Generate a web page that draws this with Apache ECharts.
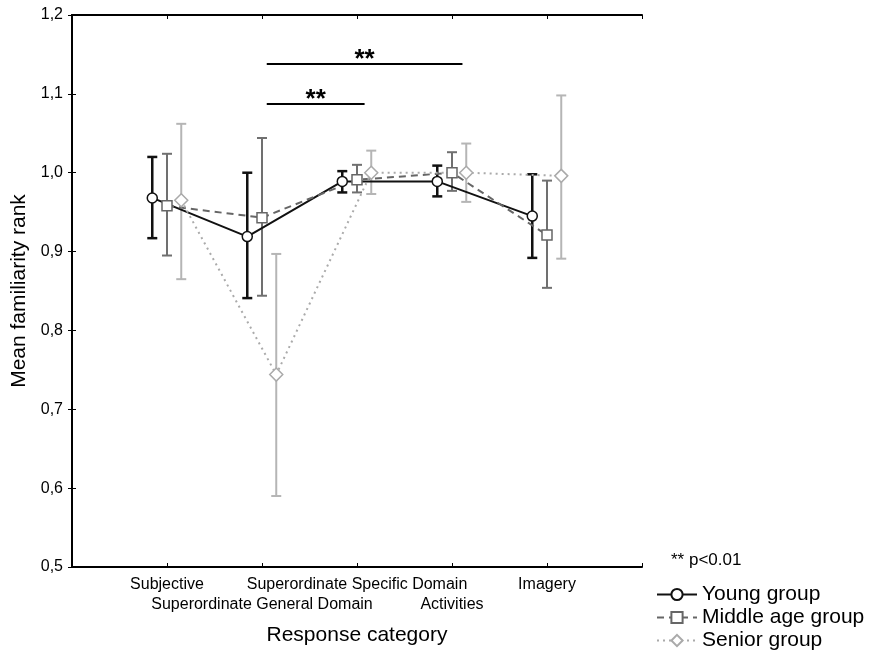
<!DOCTYPE html>
<html>
<head>
<meta charset="utf-8">
<script src="https://cdn.jsdelivr.net/npm/echarts@6/dist/echarts.min.js"></script>
<style>
  html, body { margin: 0; padding: 0; background: #fff; }
  #chart { width: 873px; height: 654px; }
</style>
</head>
<body>
<div id="chart"></div>
<script>
const categories = [
    "Subjective",
    "Superordinate General Domain",
    "Superordinate Specific Domain",
    "Activities",
    "Imagery"
];

// means, lower and upper ends of the error bars, per group
const youngMean = [0.968, 0.919, 0.989, 0.989, 0.945];
const youngLow = [0.917, 0.841, 0.975, 0.970, 0.892];
const youngHigh = [1.020, 1.000, 1.002, 1.009, 0.998];

const middleMean = [0.958, 0.943, 0.991, 1.000, 0.921];
const middleLow = [0.895, 0.844, 0.975, 0.977, 0.854];
const middleHigh = [1.024, 1.044, 1.010, 1.026, 0.990];

const seniorMean = [0.965, 0.744, 1.000, 1.000, 0.996];
const seniorLow = [0.865, 0.590, 0.973, 0.963, 0.891];
const seniorHigh = [1.062, 0.897, 1.028, 1.037, 1.098];

// significance bars: [from, to, level]
const sigBars = [
    [2.05, 4.11, 1.138],
    [2.05, 3.08, 1.087]
];

const yTicks = [0.5, 0.6, 0.7, 0.8, 0.9, 1.0, 1.1, 1.2];

const FONT = "Liberation Sans, Arial, sans-serif";

const groups = [
    {
        name: "Young group", mean: youngMean, low: youngLow, high: youngHigh,
        shift: -0.155, color: "#111", barColor: "#111", barWidth: 2.5,
        symbol: "circle", symbolSize: 10, lineType: "solid"
    },
    {
        name: "Middle age group", mean: middleMean, low: middleLow, high: middleHigh,
        shift: 0, color: "#666", barColor: "#707070", barWidth: 2,
        symbol: "rect", symbolSize: 10, lineType: [7, 5]
    },
    {
        name: "Senior group", mean: seniorMean, low: seniorLow, high: seniorHigh,
        shift: 0.15, color: "#aaa", barColor: "#b5b5b5", barWidth: 2,
        symbol: "diamond", symbolSize: 13, lineType: [2, 4]
    }
];

function errorBarRenderer(color, width) {
    return function (params, api) {
        const x = api.value(0);
        const lo = api.coord([x, api.value(1)]);
        const hi = api.coord([x, api.value(2)]);
        const half = 5;
        const style = { stroke: color, lineWidth: width };
        return {
            type: "group",
            children: [
                { type: "line", shape: { x1: hi[0], y1: hi[1], x2: lo[0], y2: lo[1] }, style: style },
                { type: "line", shape: { x1: hi[0] - half, y1: hi[1], x2: hi[0] + half, y2: hi[1] }, style: style },
                { type: "line", shape: { x1: lo[0] - half, y1: lo[1], x2: lo[0] + half, y2: lo[1] }, style: style }
            ]
        };
    };
}

function sigRenderer(params, api) {
    const a = api.coord([api.value(0), api.value(2)]);
    const b = api.coord([api.value(1), api.value(2)]);
    return {
        type: "group",
        children: [
            { type: "line", shape: { x1: a[0], y1: a[1], x2: b[0], y2: b[1] }, style: { stroke: "#000", lineWidth: 2 } },
            {
                type: "text",
                style: {
                    text: "**", x: (a[0] + b[0]) / 2, y: a[1] + 9,
                    align: "center", verticalAlign: "bottom",
                    font: "bold 26px " + FONT, fill: "#000"
                }
            }
        ]
    };
}

const series = [];

groups.forEach(g => {
    series.push({
        type: "custom",
        name: g.name + " error",
        renderItem: errorBarRenderer(g.barColor, g.barWidth),
        encode: { x: 0, y: [1, 2] },
        data: g.mean.map((m, i) => [i + 1 + g.shift, g.low[i], g.high[i]]),
        z: 2
    });
});

groups.forEach(g => {
    series.push({
        type: "line",
        name: g.name,
        data: g.mean.map((m, i) => [i + 1 + g.shift, m]),
        symbol: g.symbol,
        symbolSize: g.symbolSize,
        showAllSymbol: true,
        lineStyle: { color: g.color, width: 2, type: g.lineType },
        itemStyle: { color: "#fff", borderColor: g.color, borderWidth: 1.5 },
        emphasis: { disabled: true },
        z: 3
    });
});

series.push({
    type: "custom",
    name: "sig",
    renderItem: sigRenderer,
    encode: { x: [0, 1], y: 2 },
    data: sigBars,
    z: 4
});

const chart = echarts.init(document.getElementById("chart"));

const yAxisBase = {
    type: "value",
    min: yTicks[0],
    max: yTicks[yTicks.length - 1],
    interval: 0.1,
    axisLine: { show: true, lineStyle: { color: "#000", width: 2 } },
    axisTick: { show: true, inside: true, length: 4, lineStyle: { color: "#000" } },
    splitLine: { show: false }
};

const xAxisBase = {
    type: "value",
    min: 0,
    max: categories.length + 1,
    interval: 1,
    axisLine: { show: true, lineStyle: { color: "#000", width: 2 } },
    axisTick: { show: true, inside: true, length: 4, lineStyle: { color: "#000" } },
    splitLine: { show: false }
};

chart.setOption({
    animation: false,
    backgroundColor: "#fff",
    textStyle: { fontFamily: FONT },
    title: {
        text: "** p<0.01",
        left: 666,
        top: 547,
        textStyle: { fontSize: 17, fontWeight: "normal", color: "#000", fontFamily: FONT }
    },
    legend: {
        data: groups.map(g => g.name),
        orient: "vertical",
        left: 656,
        top: 584,
        padding: 0,
        itemWidth: 40,
        itemHeight: 14,
        itemGap: 2,
        textStyle: { fontSize: 21, color: "#000", fontFamily: FONT }
    },
    grid: {
        left: 72,
        top: 15,
        right: 231,
        bottom: 87,
        containLabel: false
    },
    xAxis: [
        Object.assign({}, xAxisBase, {
            position: "bottom",
            name: "Response category",
            nameLocation: "middle",
            nameGap: 58,
            nameTextStyle: { fontSize: 21, color: "#000", fontFamily: FONT },
            axisLabel: {
                color: "#000",
                fontSize: 16,
                lineHeight: 20,
                margin: 8,
                fontFamily: FONT,
                formatter: v => {
                    const idx = Math.round(v) - 1;
                    if (idx < 0 || idx >= categories.length) return "";
                    return idx % 2 === 1 ? "\n" + categories[idx] : categories[idx];
                }
            }
        }),
        Object.assign({}, xAxisBase, {
            position: "top",
            axisLabel: { show: false }
        })
    ],
    yAxis: [
        Object.assign({}, yAxisBase, {
            position: "left",
            name: "Mean familiarity rank",
            nameLocation: "middle",
            nameGap: 42,
            nameTextStyle: { fontSize: 21, color: "#000", fontFamily: FONT },
            axisLabel: {
                color: "#000",
                fontSize: 16,
                margin: 9,
                fontFamily: FONT,
                formatter: v => v.toFixed(1).replace(".", ",")
            }
        }),
        Object.assign({}, yAxisBase, {
            position: "right",
            axisLabel: { show: false }
        })
    ],
    series: series
});
</script>
</body>
</html>
